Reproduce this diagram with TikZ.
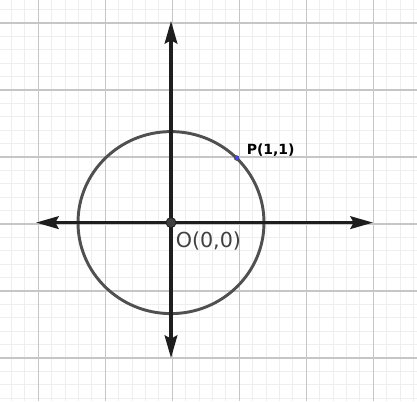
\documentclass[tikz,border=0pt]{standalone}
\usepackage{fontspec}
\setmainfont{DejaVu Sans}
\usetikzlibrary{arrows.meta}
\definecolor{minorgrid}{HTML}{EEEEEE}
\definecolor{majorgrid}{HTML}{C6C6C6}
\definecolor{axiscol}{HTML}{1E1E1E}
\definecolor{circcol}{HTML}{505050}
\definecolor{ptblue}{HTML}{4040FF}
\definecolor{labgray}{HTML}{404040}
\tikzset{
  minorline/.style={draw=minorgrid, line width=0.75pt},
  majorline/.style={draw=majorgrid, line width=0.9pt},
  axisline/.style={draw=axiscol, line width=2.3pt,
    {Stealth[length=17pt,width=9.5pt,inset=2.5pt]}-{Stealth[length=17pt,width=9.5pt,inset=2.5pt]}},
  circleline/.style={draw=circcol, line width=2.2pt},
  origindot/.style={circle, fill=axiscol!85!white, draw=axiscol, line width=0.6pt, minimum size=7.5pt, inner sep=0pt},
  pointdot/.style={circle, fill=ptblue, draw=black!70, line width=0.4pt, minimum size=3.6pt, inner sep=0pt},
  olabel/.style={text=labgray, font=\fontsize{15.5pt}{17pt}\selectfont, inner sep=0pt},
  plabel/.style={text=black, font=\bfseries\fontsize{10.5pt}{12pt}\selectfont, inner sep=0pt}
}
\begin{document}
\begin{tikzpicture}[x=0.75pt,y=-0.75pt]
\useasboundingbox (0,0) rectangle (417,401);
\fill[white] (0,0) rectangle (417,401);
\begin{scope}
\clip (0,0) rectangle (417,401);
\foreach \i in {-3,...,29} {
  \draw[minorline] ({38.3+13.4*\i},0) -- ({38.3+13.4*\i},401);
  \draw[minorline] (0,{23+13.4*\i}) -- (417,{23+13.4*\i});
}
\foreach \i in {-1,...,6} {
  \draw[majorline] ({38.3+67*\i},0) -- ({38.3+67*\i},401);
  \draw[majorline] (0,{23+67*\i}) -- (417,{23+67*\i});
}
\end{scope}
\coordinate (O) at (171,222.6);
\coordinate (xl) at (36,222.6);
\coordinate (xr) at (373,222.6);
\coordinate (yt) at (171,21);
\coordinate (yb) at (171,358);
\draw[circleline] (O) ellipse [x radius=93, y radius=91];
\draw[axisline] (xl) -- (xr);
\draw[axisline] (yb) -- (yt);
\node[origindot] (Odot) at (O) {};
\node[pointdot] (P) at (236.6,158) {};
\node[olabel, anchor=base west] (Olab) at (175.5,247) {O(0,0)};
\node[plabel, anchor=base west] (Plab) at (246.5,154) {P(1,1)};
\end{tikzpicture}
\end{document}
